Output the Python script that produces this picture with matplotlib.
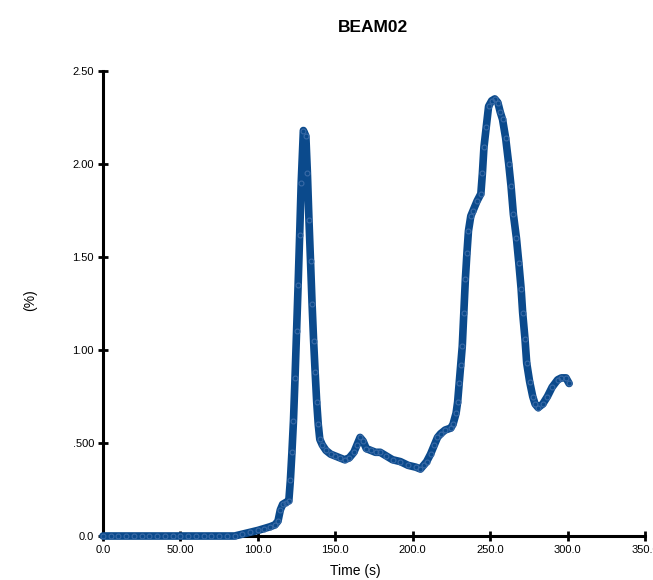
import matplotlib
matplotlib.use("Agg")
import matplotlib.pyplot as plt

plt.rcParams['font.family'] = ['Liberation Sans', 'DejaVu Sans']

title = "BEAM02"
x_label = "Time (s)"
y_label = "(%)"
x_ticks = [0, 50, 100, 150, 200, 250, 300, 350]
x_tick_labels = ["0.0", "50.00", "100.0", "150.0", "200.0", "250.0", "300.0", "350.0"]
y_ticks = [0.0, 0.5, 1.0, 1.5, 2.0, 2.5]
y_tick_labels = ["0.0", ".500", "1.00", "1.50", "2.00", "2.50"]

time_s = [0, 5, 10, 15, 20, 25, 30, 35, 40, 45, 50, 55, 60, 65, 70, 75, 80, 85,
          90, 95, 100, 104, 108, 111, 113, 114.5, 116, 118, 120, 121, 122, 123,
          124, 125, 126, 127, 128, 129.4, 131, 132, 133, 134, 135, 136, 137,
          138, 139, 140, 141.6, 144, 147, 150, 153, 156, 159, 162, 164, 166,
          168, 170, 173, 176, 179, 183, 187, 192, 197, 202, 205, 207, 209,
          211.5, 214, 216, 218, 221, 224.5, 226, 228, 229, 230, 231, 232, 233,
          234, 235, 236, 237.5, 239, 241.5, 244, 245, 246, 247.5, 249, 251,
          253, 255, 256.5, 258, 260, 262, 263.5, 265, 267, 268.5, 270, 271,
          272.5, 273.6, 275.5, 277.5, 279, 281, 284, 287, 290, 293.6, 296,
          299, 301]
percent = [0.0, 0.0, 0.0, 0.0, 0.0, 0.0, 0.0, 0.0, 0.0, 0.0, 0.0, 0.0, 0.0,
           0.0, 0.0, 0.0, 0.0, 0.0,
           0.01, 0.02, 0.03, 0.04, 0.05, 0.06, 0.08, 0.14, 0.17, 0.18, 0.19,
           0.30, 0.45, 0.62, 0.85, 1.10, 1.35, 1.62, 1.90, 2.18, 2.15, 1.95,
           1.70, 1.48, 1.25, 1.05, 0.88, 0.72, 0.60, 0.52, 0.49, 0.46, 0.44,
           0.43, 0.42, 0.41, 0.42, 0.45, 0.49, 0.53, 0.51, 0.47, 0.46, 0.45,
           0.45, 0.43, 0.41, 0.40, 0.38, 0.37, 0.36, 0.38, 0.40, 0.44, 0.49,
           0.53, 0.55, 0.57, 0.58, 0.60, 0.66, 0.72, 0.82, 0.92, 1.02, 1.20,
           1.38, 1.52, 1.64, 1.72, 1.75, 1.80, 1.84, 1.95, 2.09, 2.20, 2.31,
           2.34, 2.35, 2.33, 2.28, 2.24, 2.14, 2.00, 1.88, 1.73, 1.60, 1.47,
           1.33, 1.20, 1.06, 0.93, 0.83, 0.75, 0.71, 0.69, 0.71, 0.75, 0.80,
           0.84, 0.85, 0.85, 0.82]

fig = plt.figure(figsize=(6.53, 5.80), dpi=100)
ax = fig.add_axes([103/653, 44/580, (645-103)/653, (536-71)/580])

color = '#0b4a8c'
ax.plot(time_s, percent, color=color, lw=5.5, solid_capstyle='round',
        solid_joinstyle='round', clip_on=False, zorder=3)
ax.plot(time_s, percent, linestyle='none', marker='o', ms=3.5,
        mfc='none', mec='#3a6aa6', mew=0.8, clip_on=False, zorder=4)

ax.set_xlim(0, 350)
ax.set_ylim(0, 2.5)
ax.set_xticks(x_ticks)
ax.set_xticklabels(x_tick_labels)
ax.set_yticks(y_ticks)
ax.set_yticklabels(y_tick_labels)

for s in ['top', 'right']:
    ax.spines[s].set_visible(False)
for s in ['left', 'bottom']:
    ax.spines[s].set_linewidth(2.2)
    ax.spines[s].set_color('black')
ax.tick_params(direction='inout', length=7, width=2, labelsize=8,
               colors='black', pad=3)

fig.text(373/653, 1 - 27/580, title, ha='center', va='center',
         fontsize=12.5, fontweight='bold')
fig.text(355/653, 1 - 571/580, x_label, ha='center', va='center', fontsize=10)
fig.text(30/653, 1 - 300/580, y_label, ha='center', va='center',
         fontsize=10, rotation=90)

fig.savefig('out.png', dpi=100, facecolor='white')
